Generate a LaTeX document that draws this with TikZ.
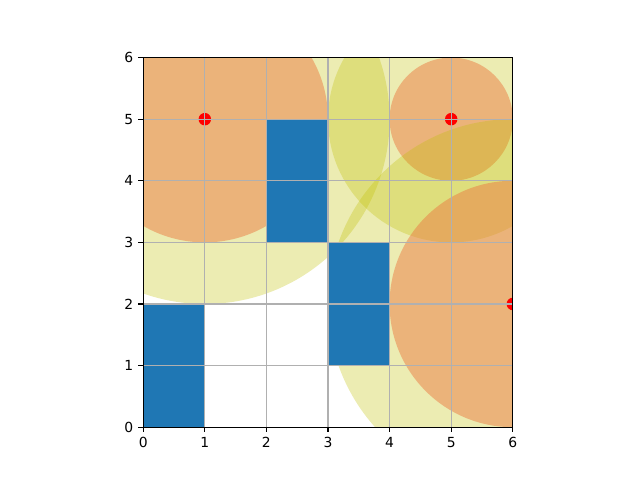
\documentclass[tikz,border=0pt]{standalone}
\usepackage{fontspec}
\setmainfont{DejaVu Sans}
\definecolor{mplblue}{HTML}{1F77B4}
\definecolor{mplgrid}{HTML}{B0B0B0}
\definecolor{zoneyel}{rgb}{0.75,0.75,0.0}
\definecolor{zoneorg}{HTML}{EA7C42}
\usetikzlibrary{positioning}

\begin{document}
\begin{tikzpicture}[x=44.35pt, y=44.35pt,
    outerzone/.style={fill=zoneyel, fill opacity=0.3},
    innerzone/.style={fill=zoneorg, fill opacity=0.5},
    obst/.style={fill=mplblue},
    gridline/.style={draw=mplgrid, line width=0.8pt},
    tickmark/.style={draw=black, line width=0.8pt},
    ticklbl/.style={font=\fontsize{10}{12}\selectfont, inner sep=0pt},
    goal/.style={circle, fill=red, inner sep=0pt, minimum size=9pt}
  ]
  \useasboundingbox (-2.325,-0.857) rectangle (8.065,6.935);

  \begin{scope}
    \clip (0,0) rectangle (6,6);
    % zones round the points
    \foreach \px/\py/\ro/\ri in {1/5/3/2, 5/5/2/1, 6/2/3/2} {
      \fill[outerzone] (\px,\py) circle (\ro);
      \fill[innerzone] (\px,\py) circle (\ri);
    }
    % obstacles
    \fill[obst] (0,0) rectangle (1,2);
    \fill[obst] (2,3) rectangle (3,5);
    \fill[obst] (3,1) rectangle (4,3);
    % points
    \node[goal] (p1) at (1,5) {};
    \node[goal] (p2) at (5,5) {};
    \node[goal] (p3) at (6,2) {};
    % grid
    \foreach \i in {1,...,5} {
      \draw[gridline] (\i,0) -- (\i,6);
      \draw[gridline] (0,\i) -- (6,\i);
    }
  \end{scope}

  % axes
  \draw[tickmark, line cap=rect] (0,0) rectangle (6,6);
  \foreach \i in {0,...,6} {
    \draw[tickmark] (\i,0) -- ++(0,-3.5pt);
    \draw[tickmark] (0,\i) -- ++(-3.5pt,0);
    \node[ticklbl, anchor=north] (xt\i) at ([yshift=-7pt]\i,0) {\i};
    \node[ticklbl, anchor=east]  (yt\i) at ([xshift=-7pt]0,\i) {\i};
  }
\end{tikzpicture}
\end{document}
